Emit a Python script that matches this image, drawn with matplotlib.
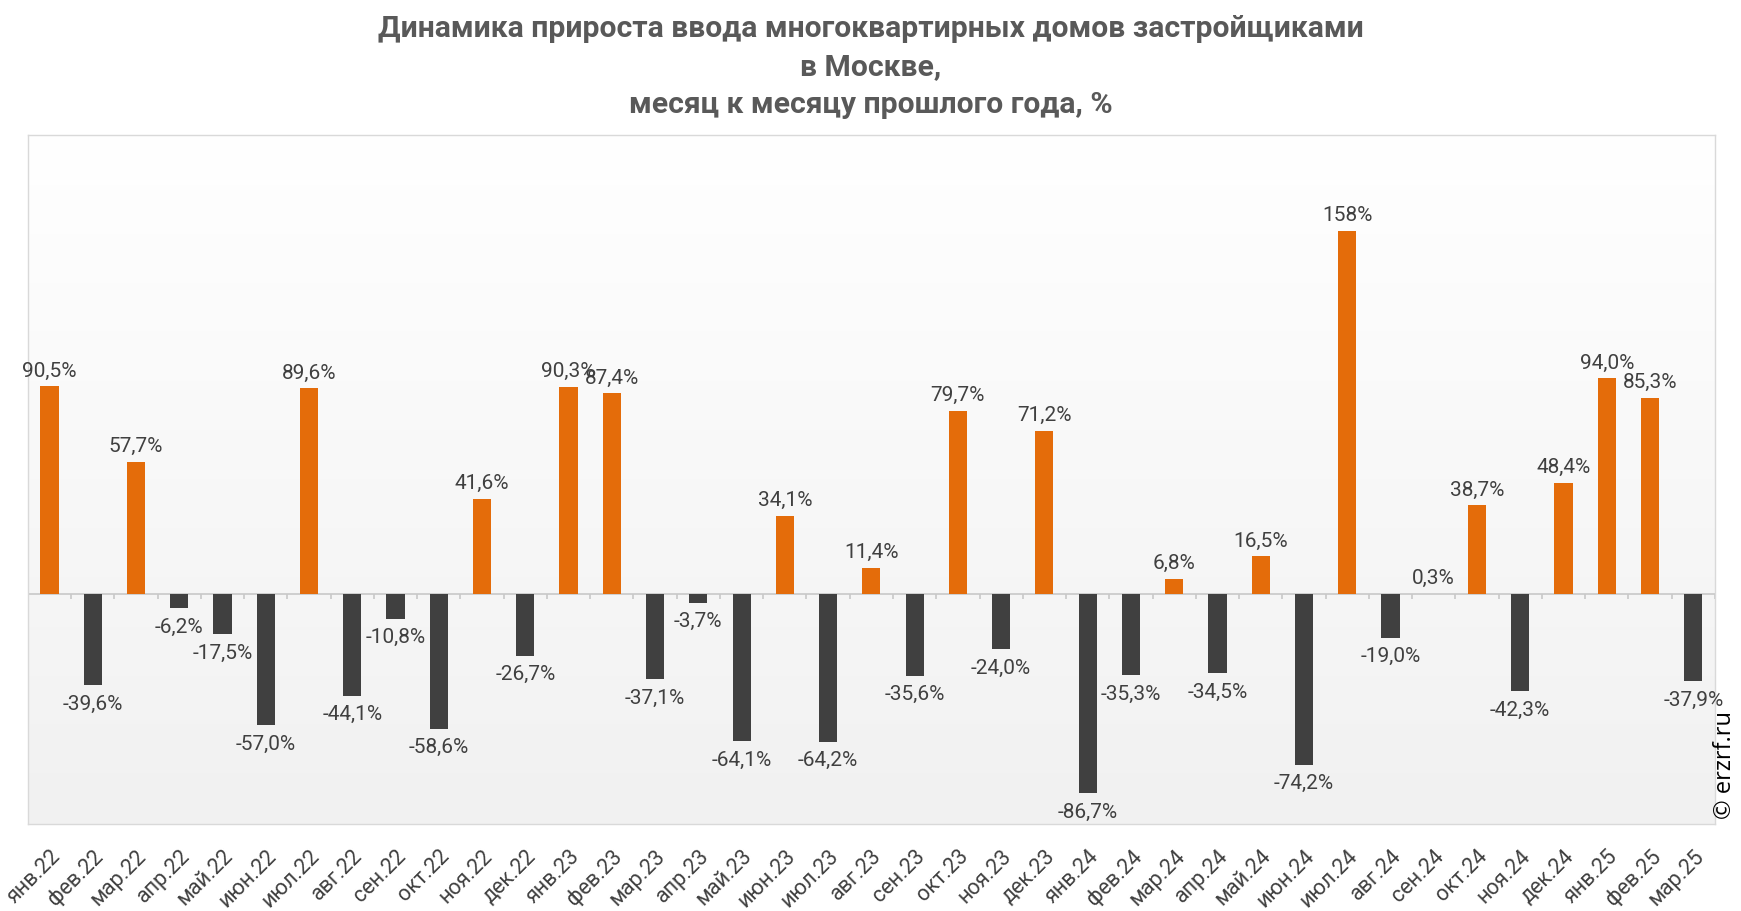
import numpy as np
import matplotlib.pyplot as plt
from matplotlib.colors import LinearSegmentedColormap

plt.rcParams['font.family'] = ['Roboto', 'DejaVu Sans']

months = ["янв.22", "фев.22", "мар.22", "апр.22", "май.22", "июн.22", "июл.22", "авг.22", "сен.22", "окт.22",
          "ноя.22", "дек.22", "янв.23", "фев.23", "мар.23", "апр.23", "май.23", "июн.23", "июл.23", "авг.23",
          "сен.23", "окт.23", "ноя.23", "дек.23", "янв.24", "фев.24", "мар.24", "апр.24", "май.24", "июн.24",
          "июл.24", "авг.24", "сен.24", "окт.24", "ноя.24", "дек.24", "янв.25", "фев.25", "мар.25"]
growth = [90.5, -39.6, 57.7, -6.2, -17.5, -57.0, 89.6, -44.1, -10.8, -58.6,
          41.6, -26.7, 90.3, 87.4, -37.1, -3.7, -64.1, 34.1, -64.2, 11.4,
          -35.6, 79.7, -24.0, 71.2, -86.7, -35.3, 6.8, -34.5, 16.5, -74.2,
          158.0, -19.0, 0.3, 38.7, -42.3, 48.4, 94.0, 85.3, -37.9]

orange = "#E46C0A"
dark = "#404040"
txt = "#404040"

fig = plt.figure(figsize=(17.41, 9.12), dpi=100)
ax = fig.add_axes([0.016, 0.0955, 0.969, 0.7555])

x = np.arange(len(months))
x0, x1 = -0.5, len(months) - 0.5

# фон с градиентом: сверху белый, снизу светло-серый
grad = np.linspace(0, 1, 256).reshape(-1, 1)
cmap = LinearSegmentedColormap.from_list("bg", ["#f1f1f1", "#ffffff"])
ax.imshow(grad, extent=[x0, x1, -100, 200], origin='lower', cmap=cmap, aspect='auto', zorder=0)
ax.set_xlim(x0, x1)
ax.set_ylim(-100, 200)

colors = [orange if v >= 0 else dark for v in growth]
ax.bar(x, growth, width=0.42, color=colors, zorder=3)

ax.axhline(0, color="#c8c8c8", lw=1.2, zorder=2)
ax.vlines(np.arange(len(months) + 1) - 0.5, -2.2, 0, color="#c8c8c8", lw=1.2, zorder=2)

for xi, v in zip(x, growth):
    if abs(v) >= 100:
        s = f"{v:.0f}%"
    else:
        s = f"{v:.1f}%".replace('.', ',')
    if v >= 0:
        ax.annotate(s, (xi, v), xytext=(0, 5), textcoords='offset points', ha='center', va='bottom',
                    fontsize=15, color=txt, zorder=4)
    else:
        ax.annotate(s, (xi, v), xytext=(0, -6), textcoords='offset points', ha='center', va='top',
                    fontsize=15, color=txt, zorder=4)

ax.set_xticks(x)
ax.set_xticklabels(months, rotation=45, ha='right', rotation_mode='anchor', fontsize=15.5, color=txt)
ax.tick_params(axis='x', length=0, pad=15)
ax.set_yticks([])
for sp in ax.spines.values():
    sp.set_color("#d9d9d9")
    sp.set_linewidth(1)

fig.text(0.5, 0.984, "Динамика прироста ввода многоквартирных домов застройщиками\nв Москве,\nмесяц к месяцу прошлого года, %",
         ha='center', va='top', fontsize=21.7, fontweight='bold', color="#595959", linespacing=1.47)
fig.text(0.991, 0.161, "© erzrf.ru", rotation=90, ha='center', va='center', fontsize=17,
         family=['Open Sans', 'DejaVu Sans'], color="#000000")

fig.savefig("out.png", dpi=100)
